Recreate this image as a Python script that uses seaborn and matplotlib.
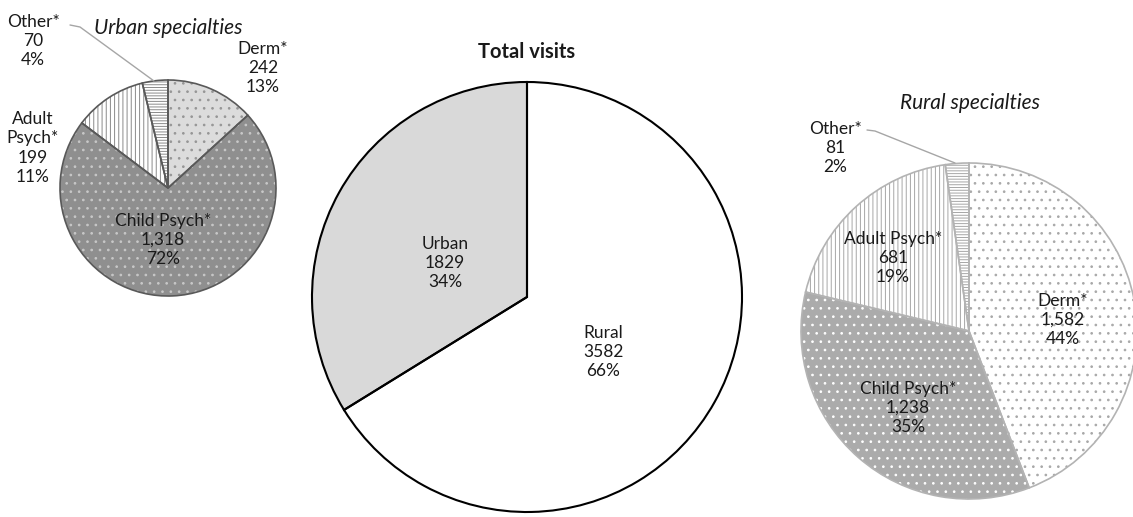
import matplotlib
matplotlib.use("Agg")
import matplotlib.pyplot as plt
import seaborn as sns

# ---- data ----
total_labels = ["Rural", "Urban"]
total_values = [3582, 1829]

urban_labels = ["Derm*", "Child Psych*", "Adult\nPsych*", "Other*"]
urban_values = [242, 1318, 199, 70]

rural_labels = ["Derm*", "Child Psych*", "Adult Psych*", "Other*"]
rural_values = [1582, 1238, 681, 81]

sns.set_theme(style="white")
plt.rcParams["font.family"] = ["Lato", "DejaVu Sans"]
plt.rcParams["hatch.linewidth"] = 0.7

W, H = 1133, 517
fig = plt.figure(figsize=(W / 100, H / 100), dpi=100)
ax = fig.add_axes([0, 0, 1, 1])


def Y(y):
    return H - y


def draw_pie(values, center, radius, faces, hatch_colors, hatches, edge, lw):
    cx, cy = center
    w1, _ = ax.pie(values, center=(cx, Y(cy)), radius=radius, startangle=90,
                   counterclock=False, colors=faces,
                   wedgeprops=dict(linewidth=0))
    for w, hc, h in zip(w1, hatch_colors, hatches):
        w.set_edgecolor(hc)
        if h:
            w.set_hatch(h)
    ax.pie(values, center=(cx, Y(cy)), radius=radius, startangle=90,
           counterclock=False, colors=["none"] * len(values),
           wedgeprops=dict(linewidth=lw, edgecolor=edge, facecolor="none"))


def pct(values):
    t = sum(values)
    return [round(v * 100 / t) for v in values]


# Total visits (center)
draw_pie(total_values, (527, 297), 215, ["white", "#d9d9d9"],
         ["white", "#d9d9d9"], [None, None], "black", 1.5)

# Urban specialties
draw_pie(urban_values, (168, 188), 108,
         ["#dcdcdc", "#8f8f8f", "white", "white"],
         ["#969696", "#c8c8c8", "#8a8a8a", "#8a8a8a"],
         ["..", "..", "||||", "------"], "#595959", 1.2)

# Rural specialties
draw_pie(rural_values, (969, 331), 168,
         ["white", "#ababab", "white", "white"],
         ["#a8a8a8", "white", "#a6a6a6", "#a6a6a6"],
         ["..", "..", "||||", "------"], "#b3b3b3", 1.2)

fs = 12.5
tc = "#1a1a1a"
ls = 1.25

# Total labels
tp = pct(total_values)
tot_pos = [(603, 352), (445, 263)]
for lab, v, p, (x, y) in zip(total_labels, total_values, tp, tot_pos):
    ax.text(x, Y(y), f"{lab}\n{v}\n{p}%", ha="center", va="center",
            fontsize=fs, color=tc, linespacing=ls)

# Urban labels
up = pct(urban_values)
urb_pos = [(263, 68), (163, 240), (33, 148), (33, 41)]
for lab, v, p, (x, y) in zip(urban_labels, urban_values, up, urb_pos):
    ax.text(x, Y(y), f"{lab}\n{v:,}\n{p}%", ha="center", va="center",
            fontsize=fs, color=tc, linespacing=ls)

# Rural labels
rp = pct(rural_values)
rur_pos = [(1063, 320), (908, 408), (893, 258), (835, 148)]
for lab, v, p, (x, y) in zip(rural_labels, rural_values, rp, rur_pos):
    ax.text(x, Y(y), f"{lab}\n{v:,}\n{p}%", ha="center", va="center",
            fontsize=fs, color=tc, linespacing=ls)

# leader lines
ax.plot([70, 80, 154], [Y(25), Y(27), Y(81)], color="#a6a6a6", lw=1.0)
ax.plot([867, 875, 955], [Y(130), Y(131), Y(163)], color="#a6a6a6", lw=1.0)

# titles
ax.text(527, Y(52), "Total visits", ha="center", va="center",
        fontsize=14.5, fontweight="bold", color=tc)
ax.text(168, Y(28), "Urban specialties", ha="center", va="center",
        fontsize=15, fontstyle="italic", color=tc)
ax.text(970, Y(103), "Rural specialties", ha="center", va="center",
        fontsize=15, fontstyle="italic", color=tc)

ax.set_xlim(0, W)
ax.set_ylim(0, H)
ax.set_aspect("equal")
ax.axis("off")

fig.savefig("out.png", dpi=100, facecolor="white")
